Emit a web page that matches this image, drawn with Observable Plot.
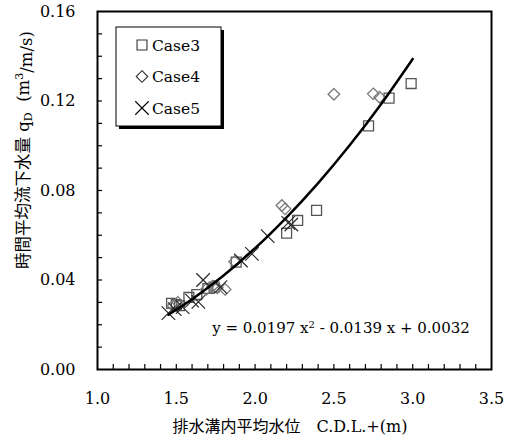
<!DOCTYPE html>
<html><head><meta charset="utf-8">
<script src="https://cdn.jsdelivr.net/npm/d3@7"></script>
<script src="https://cdn.jsdelivr.net/npm/@observablehq/plot@0.6"></script>
<style>body{margin:0;background:#fff}</style>
</head><body><div id="chart"></div>
<script>
// Case3 (squares)
const case3X = [1.47, 1.50, 1.52, 1.58, 1.63, 1.70, 1.74, 1.88, 2.20, 2.27, 2.39, 2.72, 2.85, 2.99];
const case3Y = [0.0296, 0.0290, 0.0285, 0.0322, 0.0335, 0.0362, 0.0368, 0.0480, 0.0609, 0.0666, 0.0711, 0.1089, 0.1213, 0.1278];
// Case4 (diamonds)
const case4X = [1.48, 1.51, 1.69, 1.73, 1.76, 1.81, 1.87, 2.17, 2.19, 2.50, 2.75, 2.79];
const case4Y = [0.0285, 0.0300, 0.0358, 0.0372, 0.0365, 0.0358, 0.0482, 0.0733, 0.0718, 0.1230, 0.1232, 0.1217];
// Case5 (crosses)
const case5X = [1.45, 1.49, 1.54, 1.60, 1.64, 1.67, 1.78, 1.91, 1.98, 2.08, 2.21, 2.23];
const case5Y = [0.0252, 0.0270, 0.0279, 0.0308, 0.0302, 0.0400, 0.0368, 0.0487, 0.0517, 0.0596, 0.0655, 0.0648];
// fitted curve
const fitX = [1.45, 1.6, 1.8, 2.0, 2.2, 2.4, 2.6, 2.8, 3.0];
const fitY = [0.0245, 0.0314, 0.0420, 0.0542, 0.0680, 0.0833, 0.1002, 0.1187, 0.1388];

const xMajor = [1.0, 1.5, 2.0, 2.5, 3.0, 3.5];
const yMajor = [0.00, 0.04, 0.08, 0.12, 0.16];
const xMinor = [1.1,1.2,1.3,1.4,1.5,1.6,1.7,1.8,1.9,2.0,2.1,2.2,2.3,2.4,2.5,2.6,2.7,2.8,2.9,3.0,3.1,3.2,3.3,3.4];
const yMinor = [0.01,0.02,0.03,0.04,0.05,0.06,0.07,0.08,0.09,0.10,0.11,0.12,0.13,0.14,0.15];

const seriesNames = ["Case3", "Case4", "Case5"];
const xTitle = "排水溝内平均水位\u3000C.D.L.+(m)";
const equationParts = ["y = 0.0197 x", "2", " - 0.0139 x + 0.0032"];

const rows = (xs, ys) => xs.map((x, i) => ({x, y: ys[i]}));
const case3 = rows(case3X, case3Y);
const case4 = rows(case4X, case4Y);
const case5 = rows(case5X, case5Y);
const fit = rows(fitX, fitY);

const styles = {
  Case3: {symbol: "square", r: 5.6, stroke: "#555", strokeWidth: 1.3},
  Case4: {symbol: "diamond2", r: 5.2, stroke: "#7a7a7a", strokeWidth: 1.3},
  Case5: {symbol: "times", r: 6.2, stroke: "#2a2a2a", strokeWidth: 1.2}
};

const serif = "DejaVu Serif, Noto Sans CJK JP, serif";

const chart = Plot.plot({
  width: 506, height: 441,
  marginLeft: 97, marginRight: 15, marginTop: 11, marginBottom: 72,
  x: {domain: [1, 3.5]},
  y: {domain: [0, 0.16]},
  style: {fontFamily: serif, fontSize: "16px", color: "#000", background: "#fff"},
  marks: [
    Plot.axisX({ticks: xMinor, tickSize: 5, dy: -5, tickFormat: () => "", label: null, stroke: "#000", strokeWidth: 1.2}),
    Plot.axisX({ticks: xMajor, tickSize: 0, tickPadding: 23, tickFormat: d3.format(".1f"), label: null}),
    Plot.axisY({ticks: yMinor, tickSize: 5, dx: 5, tickFormat: () => "", label: null, stroke: "#000", strokeWidth: 1.2}),
    Plot.axisY({ticks: yMajor, tickSize: 0, tickPadding: 22, tickFormat: d3.format(".2f"), label: null}),
    Plot.dot(case3, {x: "x", y: "y", fill: "none", ...styles.Case3}),
    Plot.dot(case4, {x: "x", y: "y", fill: "none", ...styles.Case4}),
    Plot.dot(case5, {x: "x", y: "y", fill: "none", ...styles.Case5}),
    Plot.line(fit, {x: "x", y: "y", stroke: "#000", strokeWidth: 2.5, curve: "catmull-rom"}),
    Plot.frame({stroke: "#000", strokeWidth: 2})
  ]
});

const svg = d3.select(chart);

// Legend
const lg = svg.append("g");
lg.append("rect").attr("x", 119).attr("y", 30).attr("width", 105).attr("height", 99).attr("fill", "#000");
lg.append("rect").attr("x", 116).attr("y", 27).attr("width", 105).attr("height", 99).attr("fill", "#fff").attr("stroke", "#000").attr("stroke-width", 1);
const symMap = {square: d3.symbolSquare, diamond2: d3.symbolDiamond2, times: d3.symbolTimes};
seriesNames.forEach((name, i) => {
  const s = styles[name];
  const yy = 45 + i * 31.5;
  lg.append("path")
    .attr("transform", `translate(142,${yy})`)
    .attr("d", d3.symbol(symMap[s.symbol], s.r * s.r * Math.PI)())
    .attr("fill", "none").attr("stroke", name === "Case5" ? "#000" : "#333").attr("stroke-width", 1.1);
  lg.append("text").attr("x", 152).attr("y", yy).attr("dy", "0.36em")
    .style("font-family", serif).style("font-size", "15.5px").attr("text-anchor", "start").text(name);
});

// Equation
const eq = svg.append("text").attr("x", 341).attr("y", 328).attr("dy", "0.36em")
  .attr("text-anchor", "middle").style("font-family", serif).style("font-size", "15px");
eq.append("tspan").text(equationParts[0]);
eq.append("tspan").style("font-size", "10px").attr("dy", "-0.55em").text(equationParts[1]);
eq.append("tspan").attr("dy", "0.35em").text(equationParts[2]);

// X title
svg.append("text").attr("x", 290).attr("y", 426).attr("dy", "0.36em")
  .attr("text-anchor", "middle").style("font-family", serif).style("font-size", "16px").text(xTitle);

// Y title
const yt = svg.append("text").attr("transform", "translate(23,150) rotate(-90)")
  .attr("dy", "0.36em").attr("text-anchor", "middle").style("font-family", serif).style("font-size", "16.5px");
yt.append("tspan").text("時間平均流下水量 q");
yt.append("tspan").style("font-size", "11px").attr("dy", "0.3em").text("D");
yt.append("tspan").attr("dy", "-0.2em").text("  (m");
yt.append("tspan").style("font-size", "11px").attr("dy", "-0.5em").text("3");
yt.append("tspan").attr("dy", "0.5em").text("/m/s)");

document.getElementById("chart").appendChild(chart);
</script>
</body></html>
